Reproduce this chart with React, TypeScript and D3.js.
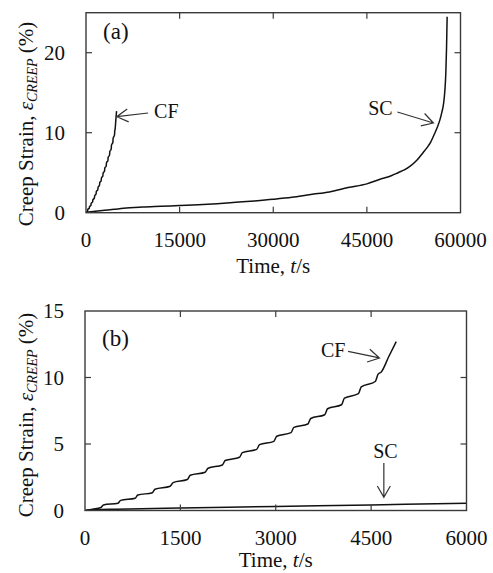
import React, { useEffect, useRef } from "react";
import * as d3 from "d3";

// creep strain (%) vs time (s)
const cfTime = [0, 120, 250, 290, 520, 560, 790, 830, 1060, 1100, 1340, 1385, 1610, 1655, 1890, 1935, 2160, 2205, 2430, 2475, 2700, 2745, 2970, 3015, 3240, 3285, 3505, 3550, 3770, 3815, 4035, 4080, 4300, 4345, 4565, 4610, 4660, 4780, 4895];
const cfStrain = [0, 0.1, 0.22, 0.42, 0.55, 0.76, 0.92, 1.16, 1.34, 1.6, 1.82, 2.1, 2.33, 2.65, 2.88, 3.18, 3.42, 3.76, 4.0, 4.35, 4.6, 4.95, 5.2, 5.58, 5.85, 6.25, 6.5, 6.92, 7.2, 7.65, 7.95, 8.45, 8.78, 9.3, 9.7, 10.25, 10.42, 11.6, 12.7];

const scTime = [0, 150, 500, 1500, 3000, 4500, 6000, 9000, 12000, 15000, 18000, 21000, 24000, 27000, 30000, 33000, 36000, 39000, 42000, 45000, 47000, 49000, 50000, 51000, 52000, 53000, 54000, 54700, 55200, 55800, 56300, 56700, 57000, 57300, 57500, 57650, 57760, 57860];
const scStrain = [0, 0.06, 0.1, 0.18, 0.3, 0.42, 0.55, 0.7, 0.8, 0.9, 1.0, 1.13, 1.3, 1.47, 1.67, 1.92, 2.28, 2.6, 3.15, 3.6, 4.15, 4.65, 5.0, 5.35, 5.85, 6.55, 7.5, 8.2, 8.8, 9.8, 10.7, 11.6, 12.5, 13.7, 15.3, 17.5, 20.5, 24.5];

const xTicksA = [0, 15000, 30000, 45000, 60000];
const yTicksA = [0, 10, 20];
const xTicksB = [0, 1500, 3000, 4500, 6000];
const yTicksB = [0, 5, 10, 15];

// annotations in data units: label [t, strain], arrow tail, arrow tip
const notesA = [
  { text: "CF", at: [10910, 11.78], from: [9950, 12.46], to: [4925, 12.0] },
  { text: "SC", at: [45220, 12.2], from: [49890, 12.59], to: [55670, 11.21] },
];
const notesB = [
  { text: "CF", at: [3710, 11.52], from: [4137, 11.97], to: [4631, 11.47] },
  { text: "SC", at: [4532, 3.95], from: [4700, 3.57], to: [4700, 1.0] },
];

const FONT = "'Liberation Serif', 'Times New Roman', serif";

function drawPanel(svg, cfg) {
  const { id, left, right, top, bottom, xMax, yMax, xTicks, yTicks, tag, tagAt, notes, titleY, titleGap } = cfg;
  const x = d3.scaleLinear().domain([0, xMax]).range([left, right]);
  const y = d3.scaleLinear().domain([0, yMax]).range([bottom, top]);
  const g = svg.append("g");

  g.append("clipPath").attr("id", id).append("rect")
    .attr("x", left).attr("y", top).attr("width", right - left).attr("height", bottom - top);

  const line = d3.line().x(d => x(d[0])).y(d => y(d[1])).curve(d3.curveMonotoneX);
  const series = [
    d3.zip(cfTime, cfStrain),
    d3.zip(scTime, scStrain),
  ];
  g.append("g").attr("clip-path", `url(#${id})`)
    .selectAll("path").data(series).join("path")
    .attr("fill", "none")
    .attr("stroke", "#111")
    .attr("stroke-width", 1.5)
    .attr("stroke-linejoin", "round")
    .attr("d", line);

  // frame
  g.append("rect")
    .attr("x", left).attr("y", top).attr("width", right - left).attr("height", bottom - top)
    .attr("fill", "none").attr("stroke", "#3a3a3a").attr("stroke-width", 1.4);

  // inward ticks on all sides
  const tl = 6;
  const innerX = xTicks.slice(1, -1);
  g.append("g").selectAll("line").data(innerX).join("line")
    .attr("x1", d => x(d)).attr("x2", d => x(d)).attr("y1", bottom).attr("y2", bottom - tl)
    .attr("stroke", "#3a3a3a").attr("stroke-width", 1.2);
  g.append("g").selectAll("line").data(innerX).join("line")
    .attr("x1", d => x(d)).attr("x2", d => x(d)).attr("y1", top).attr("y2", top + tl)
    .attr("stroke", "#3a3a3a").attr("stroke-width", 1.2);
  const innerY = yTicks.filter(d => d > 0 && d < yMax);
  g.append("g").selectAll("line").data(innerY).join("line")
    .attr("x1", left).attr("x2", left + tl).attr("y1", d => y(d)).attr("y2", d => y(d))
    .attr("stroke", "#3a3a3a").attr("stroke-width", 1.2);
  g.append("g").selectAll("line").data(innerY).join("line")
    .attr("x1", right).attr("x2", right - tl).attr("y1", d => y(d)).attr("y2", d => y(d))
    .attr("stroke", "#3a3a3a").attr("stroke-width", 1.2);

  // tick labels
  g.append("g").selectAll("text").data(xTicks).join("text")
    .attr("x", d => x(d)).attr("y", bottom + 34)
    .attr("text-anchor", "middle")
    .attr("font-family", FONT).attr("font-size", 21).attr("fill", "#111")
    .text(d => d);
  g.append("g").selectAll("text").data(yTicks).join("text")
    .attr("x", left - 21).attr("y", d => y(d) + 7)
    .attr("text-anchor", "end")
    .attr("font-family", FONT).attr("font-size", 21).attr("fill", "#111")
    .text(d => d);

  // axis titles
  const xt = g.append("text")
    .attr("x", (left + right) / 2).attr("y", bottom + titleGap)
    .attr("text-anchor", "middle")
    .attr("font-family", FONT).attr("font-size", 21).attr("fill", "#111");
  xt.append("tspan").text("Time, ");
  xt.append("tspan").attr("font-style", "italic").text("t");
  xt.append("tspan").text("/s");

  const yt = g.append("text")
    .attr("transform", `translate(33,${titleY}) rotate(-90)`)
    .attr("text-anchor", "middle")
    .attr("font-family", FONT).attr("font-size", 21).attr("fill", "#111");
  yt.append("tspan").text("Creep Strain, ");
  yt.append("tspan").attr("font-style", "italic").text("ε");
  yt.append("tspan").attr("font-style", "italic").attr("font-size", 14).attr("dy", 4).text("CREEP");
  yt.append("tspan").attr("dy", -4).text(" (%)");

  // panel tag
  g.append("text")
    .attr("x", x(tagAt[0])).attr("y", y(tagAt[1]))
    .attr("font-family", FONT).attr("font-size", 23).attr("fill", "#111")
    .text(tag);

  // annotations
  notes.forEach(n => {
    g.append("text")
      .attr("x", x(n.at[0])).attr("y", y(n.at[1]))
      .attr("font-family", FONT).attr("font-size", 20).attr("fill", "#111")
      .text(n.text);
    const x1 = x(n.from[0]), y1 = y(n.from[1]);
    const x2 = x(n.to[0]), y2 = y(n.to[1]);
    const ang = Math.atan2(y2 - y1, x2 - x1);
    const bl = 13, spread = Math.PI / 6;
    const p = d3.path();
    p.moveTo(x1, y1); p.lineTo(x2, y2);
    p.moveTo(x2 - bl * Math.cos(ang - spread), y2 - bl * Math.sin(ang - spread));
    p.lineTo(x2, y2);
    p.lineTo(x2 - bl * Math.cos(ang + spread), y2 - bl * Math.sin(ang + spread));
    g.append("path").attr("d", p.toString())
      .attr("fill", "none").attr("stroke", "#333").attr("stroke-width", 1.2);
  });
}

const App = () => {
  const svgRef = useRef(null);

  useEffect(() => {
    const svg = d3.select(svgRef.current);
    svg.selectAll("*").remove();
    drawPanel(svg, {
      id: "clipA", left: 86, right: 460.5, top: 12.7, bottom: 212.7,
      xMax: 60000, yMax: 25, xTicks: xTicksA, yTicks: yTicksA,
      tag: "(a)", tagAt: [2730, 21.7], notes: notesA, titleY: 124, titleGap: 60,
    });
    drawPanel(svg, {
      id: "clipB", left: 85, right: 466.5, top: 311, bottom: 510.5,
      xMax: 6000, yMax: 15, xTicks: xTicksB, yTicks: yTicksB,
      tag: "(b)", tagAt: [268, 12.37], notes: notesB, titleY: 415, titleGap: 56,
    });
  }, []);

  return (
    <svg ref={svgRef} width={493} height={573}
      style={{ position: "absolute", left: 0, top: 0, background: "#fff" }} />
  );
};

export default App;
